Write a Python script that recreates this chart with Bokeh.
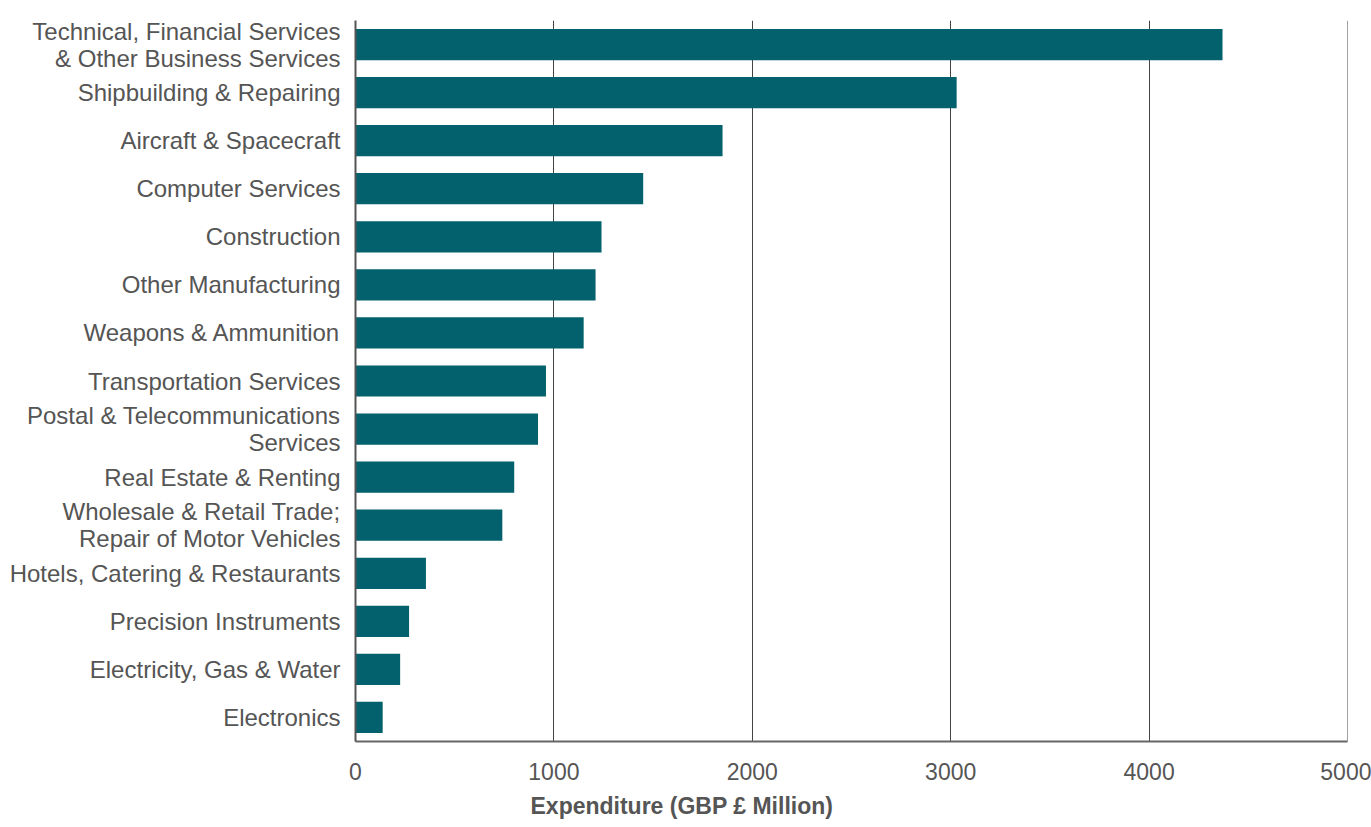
from bokeh.plotting import figure
from bokeh.models import FixedTicker, Range1d, Span, Title
from bokeh.embed import file_html
from bokeh.resources import INLINE

categories = [
    "Technical, Financial Services\n& Other Business Services",
    "Shipbuilding & Repairing",
    "Aircraft & Spacecraft",
    "Computer Services",
    "Construction",
    "Other Manufacturing",
    "Weapons & Ammunition",
    "Transportation Services",
    "Postal & Telecommunications\nServices",
    "Real Estate & Renting",
    "Wholesale & Retail Trade;\nRepair of Motor Vehicles",
    "Hotels, Catering & Restaurants",
    "Precision Instruments",
    "Electricity, Gas & Water",
    "Electronics",
]
values = [4370, 3030, 1850, 1450, 1240, 1210, 1150, 960, 920, 800, 740, 355, 270, 225, 137]
x_ticks = [0, 1000, 2000, 3000, 4000, 5000]
x_title = "Expenditure (GBP £ Million)"

FONT = "Liberation Sans"
TXT = "#555555"

p = figure(
    width=1371, height=827,
    y_range=list(reversed(categories)),
    x_range=Range1d(0, 5000),
    output_backend="svg", toolbar_location=None,
    min_border_left=355, min_border_right=24, min_border_top=20, min_border_bottom=86,
)
p.outline_line_color = None
p.hbar(y=categories, right=values, left=0, height=0.65, color="#02616C", line_color=None)
p.add_layout(Span(location=5000, dimension="height", line_color="#444444", line_width=1))

# x-axis title, placed as in the reference (left-shifted from the frame centre)
p.add_layout(Title(
    text=x_title, align="left", offset=175, standoff=17,
    text_font=FONT, text_font_style="bold", text_font_size="23px", text_color=TXT,
), "below")

p.xaxis.ticker = FixedTicker(ticks=x_ticks)
p.xaxis.major_label_text_font = FONT
p.xaxis.major_label_text_font_size = "23px"
p.xaxis.major_label_text_color = TXT
p.xaxis.major_label_standoff = 15
p.xaxis.major_tick_line_color = None
p.xaxis.minor_tick_line_color = None
p.xaxis.axis_line_color = "#666666"
p.xaxis.axis_line_width = 2

p.yaxis.major_label_text_font = FONT
p.yaxis.major_label_text_font_size = "24px"
p.yaxis.major_label_text_color = TXT
p.yaxis.major_label_text_line_height = 1.0
p.yaxis.major_label_standoff = 9
p.yaxis.major_tick_line_color = None
p.yaxis.minor_tick_line_color = None
p.yaxis.axis_line_color = "#555555"
p.yaxis.axis_line_width = 2

p.ygrid.grid_line_color = None
p.xgrid.grid_line_color = "#444444"
p.xgrid.grid_line_width = 1

open("out.html", "w").write(file_html(p, INLINE))
